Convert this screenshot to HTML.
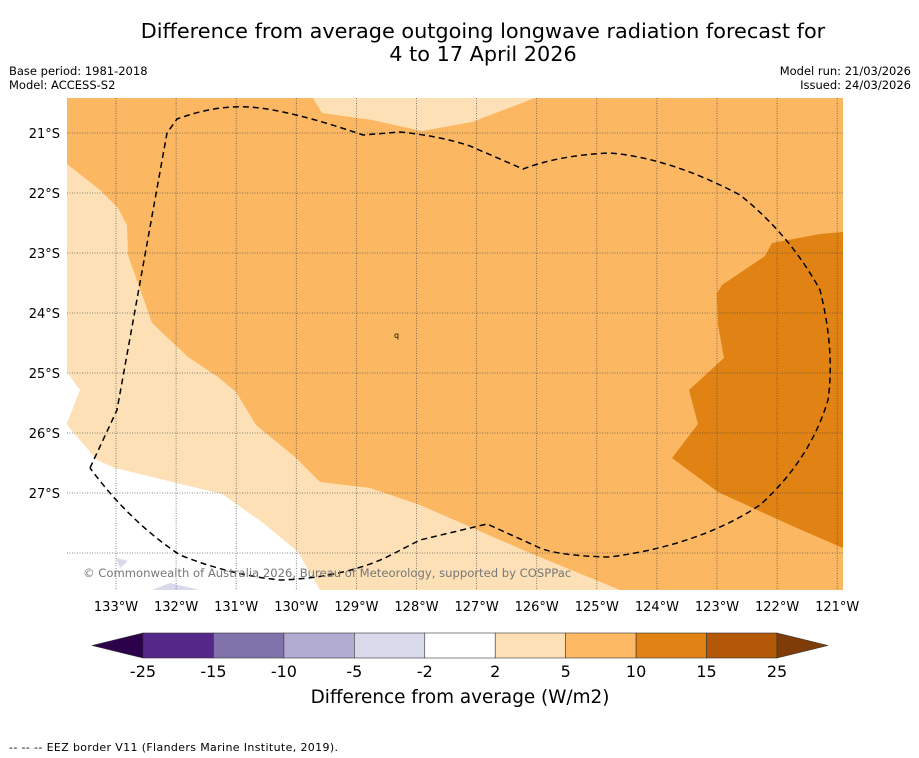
<!DOCTYPE html>
<html><head><meta charset="utf-8"><style>
body{margin:0;background:#fff;width:919px;height:758px;overflow:hidden;font-family:"DejaVu Sans","Liberation Sans",sans-serif;}
svg{position:absolute;left:0;top:0}
</style></head><body>
<svg width="919" height="758" viewBox="0 0 919 758">
<text x="483" y="38" text-anchor="middle" font-size="20.8" fill="#000">Difference from average outgoing longwave radiation forecast for</text>
<text x="483" y="61" text-anchor="middle" font-size="20.8" fill="#000">4 to 17 April 2026</text>
<text x="9" y="75" font-size="11.5">Base period: 1981-2018</text>
<text x="9" y="89" font-size="11.5">Model: ACCESS-S2</text>
<text x="911" y="75" font-size="11.5" text-anchor="end">Model run: 21/03/2026</text>
<text x="911" y="89" font-size="11.5" text-anchor="end">Issued: 24/03/2026</text>
<defs><clipPath id="mc"><rect x="67" y="98" width="776" height="492"/></clipPath></defs>
<g clip-path="url(#mc)">
<rect x="67" y="98" width="776" height="492" fill="#fde0b6"/>
<polygon fill="#fff" points="67,425 97,460 115,468 222,494 262,522 298,552 320,590 67,590"/>
<polygon fill="#fff" points="67,372 80,390 67,423"/>
<polygon fill="#d8d9ea" points="116,558 128,561 120,568"/>
<polygon fill="#d8d9ea" points="152,590 170,583 200,590"/>
<polygon fill="#fbb762" points="67,98 313,98 322,113 372,120 422,131 472,122 535,98 843,98 843,590 620,590 530,553 420,505 370,488 320,482 295,457 256,425 236,392 218,377 188,357 152,323 128,255 127,225 118,208 100,190 67,164"/>
<polygon fill="#e08214" points="843,232 820,234 772,243 765,256 722,285 717,293 718,325 724,358 689,390 698,424 672,458 718,492 790,525 843,548"/>
<g id="grid" stroke="#444" stroke-width="0.8" stroke-dasharray="1,1.5" opacity="0.8"></g>
<path fill="none" stroke="#000" stroke-width="1.5" stroke-dasharray="6,4" d="M90,468 L117,410 L167,133 L177,119 Q215,105 250,107 Q290,110 363,135 L400,132 Q440,136 470,146 L523,169 Q560,155 610,153 Q670,158 740,195 Q790,235 820,290 Q835,350 828,400 Q810,460 760,505 Q700,545 610,557 Q560,556 540,548 L487,524 L420,540 L385,558 Q340,578 280,580 Q230,575 180,555 Q130,522 90,468"/>
<text x="83" y="577" font-size="11.6" fill="#777">© Commonwealth of Australia 2026, Bureau of Meteorology, supported by COSPPac</text>
<text x="394" y="338" font-size="8">q</text>
</g>
<g id="xlab" font-size="13" text-anchor="middle"></g>
<g id="ylab" font-size="13" text-anchor="end"></g>
<g id="cbar"></g>
<text x="460" y="703" text-anchor="middle" font-size="18.4">Difference from average (W/m2)</text>
<text x="9" y="751" font-size="11" textLength="329">--  --  -- EEZ border V11 (Flanders Marine Institute, 2019).</text>
</svg>
<script>
const lons=[133,132,131,130,129,128,127,126,125,124,123,122,121];
const lats=[21,22,23,24,25,26,27,28];
const labLats=[21,22,23,24,25,26,27];
const levels=[-25,-15,-10,-5,-2,2,5,10,15,25];
const colors=['#542788','#8073ac','#b2abd2','#d8daeb','#ffffff','#fee0b6','#fdb863','#e08214','#b35806'];
const NS='http://www.w3.org/2000/svg';
const X=lon=>116+(133-lon)*60.1;
const Y=lat=>133+(lat-21)*60;
function mk(t,a,p){const e=document.createElementNS(NS,t);for(const k in a)e.setAttribute(k,a[k]);p.appendChild(e);return e;}
const g=document.getElementById('grid');
lons.forEach(l=>{const e=mk('line',{x1:X(l),x2:X(l),y1:98,y2:590},g);

});
lats.forEach(l=>{const e=mk('line',{x1:67,x2:843,y1:Y(l),y2:Y(l)},g);

});
const xl=document.getElementById('xlab');
lons.forEach(l=>{const e=mk('text',{x:X(l),y:611},xl);e.textContent=l+'°W';

});
const yl=document.getElementById('ylab');
labLats.forEach(l=>{const e=mk('text',{x:60,y:Y(l)+5},yl);e.textContent=l+'°S';

});
const cb=document.getElementById('cbar');
const cx0=143,cx1=777,cy=633,ch=25,sw=(cx1-cx0)/colors.length;
colors.forEach((c,i)=>{const r=mk('rect',{x:cx0+i*sw,y:cy,width:sw,height:ch,fill:c,stroke:'#333','stroke-width':0.6},cb);

});
const tl=mk('polygon',{points:`${cx0},${cy} 92,${cy+ch/2} ${cx0},${cy+ch}`,fill:'#2d004b',stroke:'#333','stroke-width':0.6},cb);


const tr=mk('polygon',{points:`${cx1},${cy} 828,${cy+ch/2} ${cx1},${cy+ch}`,fill:'#7f3b08',stroke:'#333','stroke-width':0.6},cb);


levels.forEach((v,i)=>{const t=mk('text',{x:cx0+i*sw,y:677,'font-size':16,'text-anchor':'middle'},cb);t.textContent=v;

});
</script>
</body></html>
